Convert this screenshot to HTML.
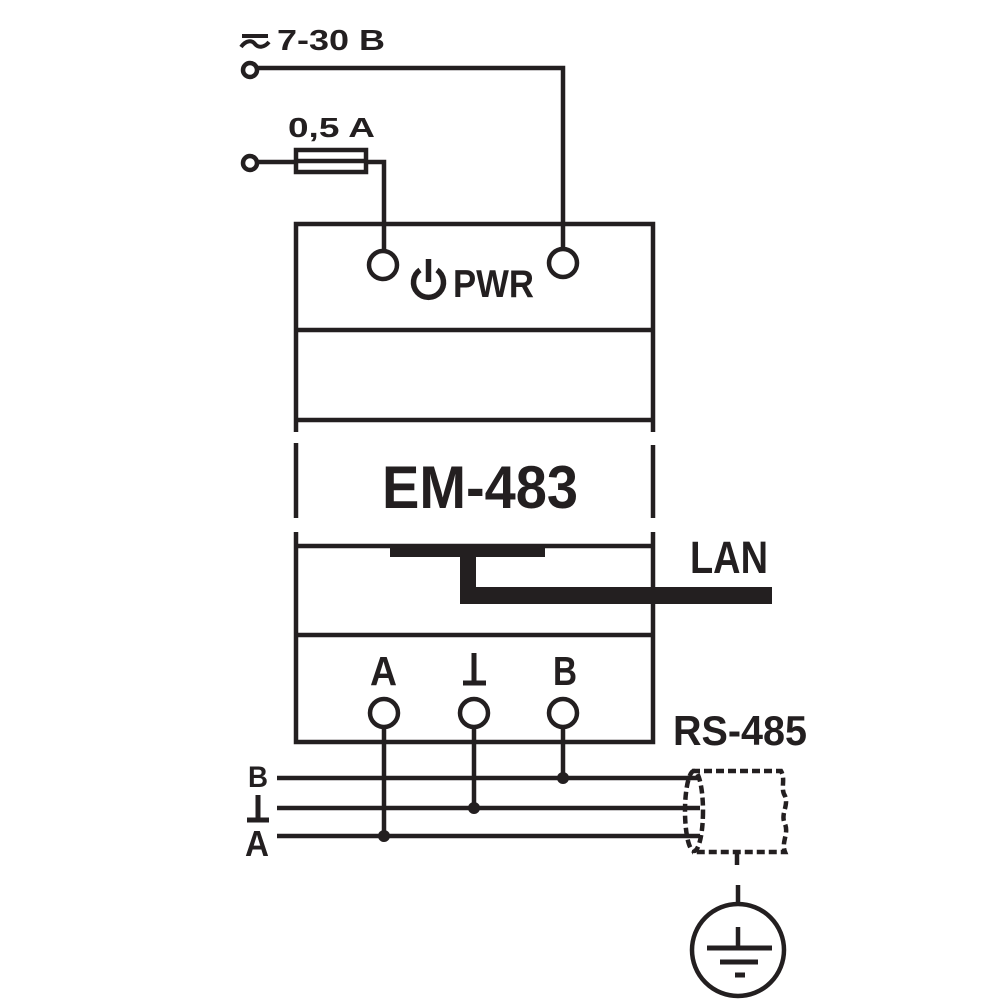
<!DOCTYPE html>
<html>
<head>
<meta charset="utf-8">
<style>
html,body{margin:0;padding:0;background:#fff;}
svg{display:block;}
text{font-family:"Liberation Sans",sans-serif;font-weight:bold;fill:#231f20;}
</style>
</head>
<body>
<svg width="1000" height="1000" viewBox="0 0 1000 1000" xmlns="http://www.w3.org/2000/svg">
<g stroke="#231f20" fill="none" stroke-width="4.5">
  <!-- top supply -->
  <circle cx="250" cy="70" r="7"/>
  <polyline points="257,68 563,68 563,249"/>
  <circle cx="250" cy="163" r="7"/>
  <line x1="257" y1="162" x2="296" y2="162"/>
  <rect x="296" y="150" width="70" height="22"/>
  <line x1="296" y1="161" x2="366" y2="161"/>
  <polyline points="366,162 384,162 384,251"/>
  <!-- ac symbol -->
  <line x1="242" y1="36" x2="268" y2="36" stroke-width="4"/>
  <path d="M241,47 C246,40 252,40 255,44 C258,48 264,48 269,42" stroke-width="4"/>

  <!-- box -->
  <polyline points="296,432 296,224 653,224 653,432"/>
  <line x1="296" y1="443" x2="296" y2="518"/>
  <line x1="653" y1="445" x2="653" y2="518"/>
  <polyline points="296,532 296,742 653,742 653,532"/>
  <line x1="296" y1="330" x2="653" y2="330"/>
  <line x1="296" y1="420" x2="653" y2="420"/>
  <line x1="296" y1="546" x2="653" y2="546"/>
  <line x1="296" y1="635" x2="653" y2="635"/>

  <!-- pwr terminals -->
  <circle cx="383" cy="265" r="14"/>
  <circle cx="563" cy="263" r="14"/>
  <!-- power icon -->
  <path d="M420,270 A15,15 0 1 0 437,270" stroke-width="5.5"/>
  <line x1="428.5" y1="259" x2="428.5" y2="282" stroke-width="5.5"/>

  <!-- bottom terminals -->
  <circle cx="384" cy="713" r="14"/>
  <circle cx="474" cy="713" r="14"/>
  <circle cx="563" cy="713" r="14"/>
  <line x1="384" y1="727" x2="384" y2="836"/>
  <line x1="474" y1="727" x2="474" y2="808"/>
  <line x1="563" y1="727" x2="563" y2="778"/>
  <!-- ground label symbol above middle terminal -->
  <line x1="474" y1="653" x2="474" y2="683" stroke-width="5"/>
  <line x1="463" y1="683" x2="486" y2="683" stroke-width="5"/>

  <!-- bus lines -->
  <line x1="277" y1="778" x2="700" y2="778"/>
  <line x1="277" y1="808" x2="700" y2="808"/>
  <line x1="277" y1="836" x2="700" y2="836"/>
  <!-- left ground symbol -->
  <line x1="258" y1="795" x2="258" y2="820" stroke-width="5"/>
  <line x1="247" y1="820" x2="269" y2="820" stroke-width="5"/>

  <!-- shield -->
  <path d="M692,771 L781,771 C786,780 780,788 785,796 C789,806 780,814 785,824 C789,834 781,842 785,852 L692,852" stroke-dasharray="8,4"/>
  <ellipse cx="694" cy="811" rx="9" ry="40" stroke-dasharray="8,4"/>
  <line x1="737" y1="852" x2="737" y2="865"/>

  <!-- earth -->
  <line x1="738" y1="885" x2="738" y2="903"/>
  <circle cx="738" cy="950" r="46"/>
  <line x1="738" y1="927" x2="738" y2="948"/>
  <line x1="707" y1="948" x2="772" y2="948" stroke-width="5"/>
  <line x1="720" y1="962" x2="758" y2="962" stroke-width="5"/>
  <line x1="735" y1="975" x2="745" y2="975" stroke-width="5"/>
</g>
<g fill="#231f20">
  <!-- LAN cable -->
  <rect x="390" y="546" width="155" height="11"/>
  <rect x="460" y="546" width="16" height="58"/>
  <rect x="460" y="587" width="312" height="17"/>
  <!-- junction dots -->
  <circle cx="563" cy="778" r="6"/>
  <circle cx="474" cy="808" r="6"/>
  <circle cx="384" cy="836" r="6"/>
</g>
<text x="277" y="50" font-size="29" textLength="108" lengthAdjust="spacingAndGlyphs">7-30 B</text>
<text x="288" y="137" font-size="28" textLength="87" lengthAdjust="spacingAndGlyphs">0,5 A</text>
<text x="453" y="297" font-size="39" textLength="81" lengthAdjust="spacingAndGlyphs">PWR</text>
<text x="382" y="508" font-size="60" textLength="196" lengthAdjust="spacingAndGlyphs">EM-483</text>
<text x="690" y="573" font-size="45" textLength="78" lengthAdjust="spacingAndGlyphs">LAN</text>
<text x="370" y="685" font-size="41" textLength="27" lengthAdjust="spacingAndGlyphs">A</text>
<text x="553" y="685" font-size="41" textLength="24" lengthAdjust="spacingAndGlyphs">B</text>
<text x="673" y="745" font-size="42" textLength="134" lengthAdjust="spacingAndGlyphs">RS-485</text>
<text x="248" y="787" font-size="30" textLength="20" lengthAdjust="spacingAndGlyphs">B</text>
<text x="245" y="856" font-size="36" textLength="24" lengthAdjust="spacingAndGlyphs">A</text>
</svg>
</body>
</html>
